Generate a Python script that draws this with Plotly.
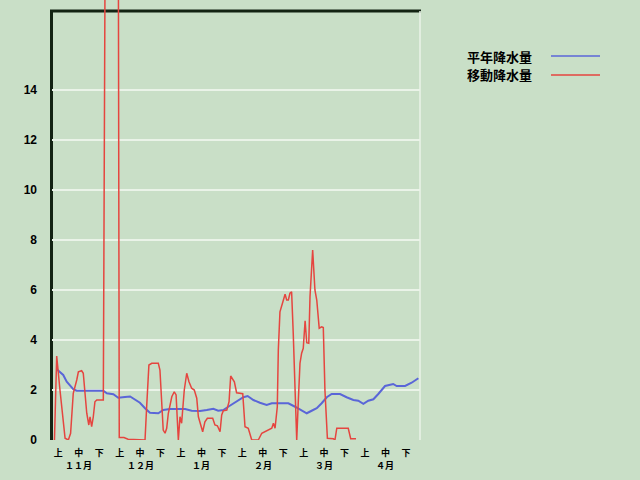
import plotly.graph_objects as go

# ---- data (x in "jun" units: 0 = start of 11月上旬, 18 = end of 4月下旬) ----
jun_labels = ["上", "中", "下"]
month_labels = ["１１月", "１２月", "１月", "２月", "３月", "４月"]

normal_x = [0.23, 0.39, 0.55, 0.72, 0.88, 1.04, 1.21, 2.51, 2.68, 3.00, 3.24, 3.42,
            3.57, 3.82, 4.06, 4.30, 4.55, 4.79, 5.20, 5.44, 5.77, 6.51, 6.83, 7.24,
            7.57, 7.89, 8.13, 8.38, 8.62, 8.87, 9.11, 9.36, 9.57, 9.85, 10.17, 10.50,
            10.75, 10.99, 11.56, 11.89, 12.21, 12.46, 12.70, 12.95, 13.19, 13.44, 13.68,
            14.09, 14.41, 14.74, 14.98, 15.23, 15.47, 15.72, 15.96, 16.29, 16.69, 16.86,
            17.27, 17.59, 17.92]
normal_y = [2.83, 2.73, 2.60, 2.33, 2.16, 2.03, 1.97, 1.97, 1.87, 1.83, 1.69, 1.69,
            1.72, 1.74, 1.63, 1.49, 1.27, 1.09, 1.07, 1.20, 1.24, 1.24, 1.17, 1.16,
            1.20, 1.25, 1.17, 1.20, 1.33, 1.47, 1.60, 1.71, 1.76, 1.60, 1.49, 1.40,
            1.47, 1.47, 1.47, 1.33, 1.20, 1.07, 1.17, 1.27, 1.47, 1.71, 1.84,
            1.84, 1.71, 1.60, 1.57, 1.45, 1.57, 1.63, 1.84, 2.16, 2.24, 2.16,
            2.16, 2.29, 2.47]

moving_x = [0.12, 0.23, 0.39, 0.52, 0.64, 0.80, 0.91, 1.04, 1.13, 1.21, 1.29, 1.45,
            1.53, 1.61, 1.70, 1.80, 1.86, 1.94, 2.02, 2.10, 2.19, 2.51, 2.61, 3.15,
            3.24, 3.29, 3.52, 3.72, 4.55, 4.63, 4.74, 4.88, 5.20, 5.28, 5.37, 5.44,
            5.53, 5.61, 5.69, 5.86, 5.98, 6.07, 6.13, 6.18, 6.26, 6.34, 6.47, 6.59,
            6.70, 6.83, 6.96, 7.08, 7.16, 7.24, 7.37, 7.48, 7.60, 7.86, 7.97, 8.09,
            8.22, 8.30, 8.38, 8.55, 8.66, 8.74, 8.82, 8.92, 9.03, 9.33, 9.44, 9.60,
            9.77, 10.09, 10.26, 10.42, 10.58, 10.75, 10.83, 10.91, 11.02, 11.07, 11.15,
            11.28, 11.40, 11.48, 11.56, 11.64, 11.72, 11.80, 11.89, 11.97, 12.05, 12.13,
            12.21, 12.29, 12.38, 12.46, 12.56, 12.62, 12.75, 12.86, 12.95, 13.07, 13.19,
            13.27, 13.35, 13.47, 13.76, 13.84, 13.93, 14.49, 14.61, 14.87]
moving_y = [0.00, 3.36, 2.00, 0.93, 0.07, 0.00, 0.27, 1.87, 2.13, 2.40, 2.73, 2.77,
            2.67, 2.00, 1.07, 0.60, 0.93, 0.53, 0.93, 1.53, 1.60, 1.60, 22.0, 22.0,
            22.0, 0.10, 0.10, 0.03, 0.00, 1.33, 3.00, 3.07, 3.07, 2.80, 1.33, 0.40,
            0.27, 0.47, 1.07, 1.73, 1.93, 1.80, 0.80, 0.00, 0.93, 0.67, 2.00, 2.67,
            2.33, 2.07, 2.00, 1.67, 0.93, 0.67, 0.33, 0.73, 0.87, 0.87, 0.60, 0.57,
            0.33, 1.00, 1.17, 1.20, 1.53, 2.56, 2.43, 2.33, 1.89, 1.85, 0.53, 0.47,
            0.00, 0.00, 0.27, 0.33, 0.40, 0.47, 0.67, 0.47, 1.33, 3.60, 5.13,
            5.53, 5.83, 5.60, 5.60, 5.87, 5.93, 4.27, 2.00, 0.00, 1.60, 3.07,
            3.47, 3.67, 4.77, 3.89, 3.87, 5.73, 7.60, 6.00, 5.60, 4.47, 4.53,
            4.50, 2.00, 0.07, 0.05, 0.00, 0.47, 0.47, 0.05, 0.05]

y_ticks = [0, 2, 4, 6, 8, 10, 12, 14]
series_names = ["平年降水量", "移動降水量"]

# ---- styling ----
BG = "#C9DFC7"
BLUE = "#5A66D8"
RED = "#E5453F"
FRAME = "#132313"
GRID = "#EAF3E8"
W, H = 640, 480
ML, MR, MT, MB = 52, 220, 0, 40
Y_MAX = 17.6
Y_FRAME = 17.16
N_JUN = 18
LABEL_OFFSET = 0.31

def px_to_paper_x(px):
    return (px - ML) / (W - ML - MR)

def px_to_paper_y(py):
    return (H - MB - py) / (H - MT - MB)

tickvals, ticktext = [], []
for m in range(len(month_labels)):
    for j, jl in enumerate(jun_labels):
        tickvals.append(m * 3 + j + LABEL_OFFSET)
        ticktext.append(jl)

fig = go.Figure()
fig.add_trace(go.Scatter(x=normal_x, y=normal_y, mode="lines", name=series_names[0],
                         line=dict(color=BLUE, width=2), showlegend=False))
fig.add_trace(go.Scatter(x=moving_x, y=moving_y, mode="lines", name=series_names[1],
                         line=dict(color=RED, width=1.5), showlegend=False))

fig.update_layout(
    width=W, height=H,
    margin=dict(l=ML, r=MR, t=MT, b=MB, pad=0, autoexpand=False),
    paper_bgcolor=BG, plot_bgcolor=BG,
    font=dict(family="Noto Sans CJK JP", color="#000000"),
    xaxis=dict(range=[0, N_JUN], tickmode="array", tickvals=tickvals, ticktext=ticktext,
               showgrid=False, zeroline=False, showline=False, ticks="", tickangle=0,
               automargin=False,
               tickfont=dict(family="Noto Sans CJK JP", size=9, color="#000", weight="bold"),
               ticklabelstandoff=6),
    yaxis=dict(range=[0, Y_MAX], tickmode="array", tickvals=y_ticks,
               showgrid=True, gridcolor=GRID, gridwidth=1.5, zeroline=False, showline=False,
               automargin=False,
               ticks="", tickfont=dict(family="Liberation Sans", size=12, color="#000", weight="bold"),
               ticklabelstandoff=14),
)

# month labels under the 中 tick of each month
for m, mon in enumerate(month_labels):
    fig.add_annotation(x=m * 3 + 1 + LABEL_OFFSET, y=px_to_paper_y(465.5), xref="x", yref="paper",
                       text=mon, showarrow=False, xanchor="center", yanchor="middle",
                       font=dict(family="Noto Sans CJK JP", size=9, color="#000", weight="bold"))

# frame lines
fig.add_shape(type="line", xref="paper", yref="y", x0=px_to_paper_x(50), x1=px_to_paper_x(421),
              y0=Y_FRAME, y1=Y_FRAME, line=dict(color=FRAME, width=3), layer="below")
fig.add_shape(type="line", xref="paper", yref="y", x0=px_to_paper_x(51.5), x1=px_to_paper_x(51.5),
              y0=0, y1=Y_FRAME, line=dict(color=FRAME, width=3), layer="below")
fig.add_shape(type="line", xref="paper", yref="y", x0=1, x1=1,
              y0=0, y1=Y_FRAME, line=dict(color=GRID, width=1.5), layer="below")

# custom legend: text on the left, line sample on the right
legend_rows = [(56, BLUE), (75, RED)]
for name, (py, col) in zip(series_names, legend_rows):
    fig.add_annotation(x=px_to_paper_x(465), y=px_to_paper_y(py), xref="paper", yref="paper",
                       text=name, showarrow=False, xanchor="left", yanchor="middle",
                       font=dict(family="Noto Sans CJK JP", size=13, color="#000", weight="bold"))
    fig.add_shape(type="line", xref="paper", yref="paper",
                  x0=px_to_paper_x(551), x1=px_to_paper_x(600),
                  y0=px_to_paper_y(py), y1=px_to_paper_y(py),
                  line=dict(color=col, width=1.5))

fig.write_html("out.html", config={"displayModeBar": False},
               post_script="document.body.style.margin='0';")
